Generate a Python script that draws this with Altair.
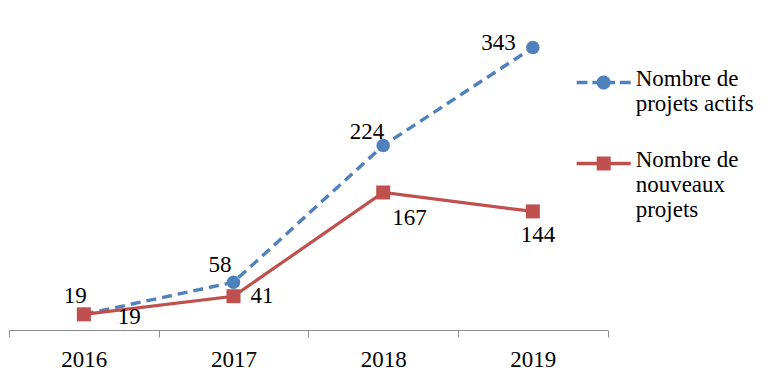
import json
import altair as alt
import pandas as pd

# ---- data ----
years = ["2016", "2017", "2018", "2019"]
actifs = [19, 58, 224, 343]
nouveaux = [19, 41, 167, 144]
series_names = ["Nombre de projets actifs", "Nombre de nouveaux projets"]
legend_lines = {
    "Nombre de projets actifs": ["Nombre de", "projets actifs"],
    "Nombre de nouveaux projets": ["Nombre de", "nouveaux", "projets"],
}

# ---- styles ----
BLUE = "#4F81BD"
RED = "#C0504D"
FONT = "'Liberation Serif', 'DejaVu Serif', serif"
FS = 23
AXIS_GREY = "#8C8C8C"
# label offsets (dx, dy) per year, relative to the point
blue_offsets = {"2016": (3, -11), "2017": (-2, -10), "2018": (1, -7), "2019": (-17, 2)}
red_offsets = {"2016": (34, 10), "2017": (17, 7), "2018": (9, 33), "2019": (-12, 31)}

rows = []
for yr, a, n in zip(years, actifs, nouveaux):
    rows.append({"year": yr, "value": a, "series": series_names[0]})
    rows.append({"year": yr, "value": n, "series": series_names[1]})
df = pd.DataFrame(rows)


# ---- custom legend symbols (line + marker), in symbol units ----
def rect(x0, x1, y0, y1):
    return f"M {x0} {y0} L {x1} {y0} L {x1} {y1} L {x0} {y1} Z "


SH = -0.13   # vertical shift of symbol
T = 0.065    # half line thickness
R = 0.26     # marker half size
path_blue = (
    rect(-1, -0.6, SH - T, SH + T)
    + rect(-0.42, -0.22, SH - T, SH + T)
    + rect(0.22, 0.42, SH - T, SH + T)
    + rect(0.6, 1, SH - T, SH + T)
    + f"M {R} {SH} A {R} {R} 0 1 1 {-R} {SH} A {R} {R} 0 1 1 {R} {SH} Z"
)
path_red = rect(-1, 1, SH - T, SH + T) + rect(-R, R, SH - R, SH + R)

label_expr = (
    f"datum.label == {json.dumps(series_names[0])} ? {json.dumps(legend_lines[series_names[0]])} : "
    f"{json.dumps(legend_lines[series_names[1]])}"
)

leg = alt.Legend(
    title=None,
    orient="none",
    legendX=567.7,
    legendY=51,
    padding=0,
    symbolSize=2916,
    symbolStrokeWidth=0,
    labelFont=FONT,
    labelFontSize=FS,
    labelColor="black",
    labelOffset=5,
    labelBaseline="alphabetic",
    labelLimit=400,
    rowPadding=24,
    labelExpr=label_expr,
)

X = alt.X(
    "year:N",
    sort=years,
    title=None,
    scale=alt.Scale(type="band", paddingInner=0, paddingOuter=0),
    axis=alt.Axis(
        tickBand="extent",
        tickSize=7,
        tickColor=AXIS_GREY,
        domainColor=AXIS_GREY,
        tickWidth=1,
        domainWidth=1,
        labelFont=FONT,
        labelFontSize=FS,
        labelColor="black",
        labelPadding=12,
        labelAngle=0,
        grid=False,
    ),
)
Y = alt.Y("value:Q", scale=alt.Scale(domain=[0, 391], nice=False, zero=True), axis=None)

base = alt.Chart(df)

legend_layer = base.transform_filter("false").mark_point(filled=True, opacity=1).encode(
    x=X,
    y=Y,
    color=alt.Color("series:N", scale=alt.Scale(domain=series_names, range=[BLUE, RED]), legend=leg),
    shape=alt.Shape("series:N", scale=alt.Scale(domain=series_names, range=[path_blue, path_red]), legend=leg),
)

blue = base.transform_filter(alt.datum.series == series_names[0])
red = base.transform_filter(alt.datum.series == series_names[1])

blue_line = blue.mark_line(color=BLUE, strokeWidth=3.4, strokeDash=[10, 6]).encode(x=X, y=Y)
blue_pts = blue.mark_point(shape="circle", filled=True, color=BLUE, size=182, opacity=1).encode(x=X, y=Y)
red_line = red.mark_line(color=RED, strokeWidth=3.2).encode(x=X, y=Y)
red_pts = red.mark_point(shape="square", filled=True, color=RED, size=196, opacity=1).encode(x=X, y=Y)

texts = []
for src, offs, align in ((blue, blue_offsets, "right"), (red, red_offsets, "left")):
    for yr in years:
        dx, dy = offs[yr]
        texts.append(
            src.transform_filter(alt.datum.year == yr)
            .mark_text(align=align, baseline="alphabetic", dx=dx, dy=dy, font=FONT, fontSize=FS, color="black")
            .encode(x=X, y=Y, text="value:Q")
        )

chart = (
    alt.layer(legend_layer, blue_line, blue_pts, red_line, red_pts, *texts)
    .properties(width=598.7, height=322, padding=0)
    .configure_view(stroke=None)
)

chart.save("out.html", embed_options={"renderer": "svg", "actions": False})
